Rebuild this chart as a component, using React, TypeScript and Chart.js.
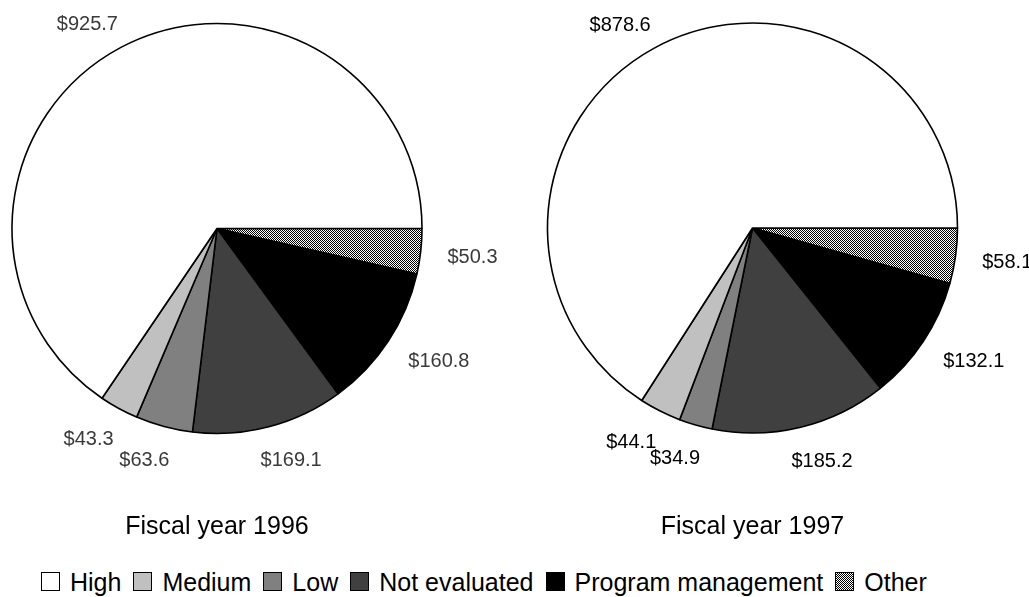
import React, { useEffect, useRef } from "react";
import { Chart, registerables } from "chart.js";

Chart.register(...registerables);

const FONT = '"Liberation Sans", Arial, Helvetica, sans-serif';

// Funding categories, in legend order
const categories = ["High", "Medium", "Low", "Not evaluated", "Program management", "Other"];
// Dollar amounts (millions) per category
const values1996 = [925.7, 43.3, 63.6, 169.1, 160.8, 50.3];
const values1997 = [878.6, 44.1, 34.9, 185.2, 132.1, 58.1];
const chartTitles = ["Fiscal year 1996", "Fiscal year 1997"];

// Slice fills per category; the last one is a checker pattern
const sliceFills = ["#ffffff", "#c0c0c0", "#808080", "#404040", "#000000", "checker"];

function makeChecker(): CanvasPattern | string {
  const c = document.createElement("canvas");
  c.width = 2;
  c.height = 2;
  const g = c.getContext("2d");
  if (!g) return "#808080";
  g.fillStyle = "#ffffff";
  g.fillRect(0, 0, 2, 2);
  g.fillStyle = "#000000";
  g.fillRect(0, 0, 1, 1);
  g.fillRect(1, 1, 1, 1);
  return g.createPattern(c, "repeat") || "#808080";
}

// Draws the "$x.x" value next to each slice and the caption under the pie
const sliceLabels = {
  id: "sliceLabels",
  afterDatasetsDraw(chart: any, _args: any, opts: any) {
    const { ctx, chartArea } = chart;
    const meta = chart.getDatasetMeta(0);
    const data = chart.data.datasets[0].data as number[];
    ctx.save();
    ctx.font = `20px ${FONT}`;
    ctx.fillStyle = opts.color;
    ctx.textAlign = "center";
    ctx.textBaseline = "alphabetic";
    meta.data.forEach((arc: any, i: number) => {
      const { x, y, startAngle, endAngle, outerRadius } = arc.getProps(
        ["x", "y", "startAngle", "endAngle", "outerRadius"],
        true
      );
      const mid = (startAngle + endAngle) / 2;
      const text = "$" + data[i].toFixed(1);
      const w = ctx.measureText(text).width;
      const c = Math.cos(mid);
      const s = Math.sin(mid);
      const R = outerRadius + 27;
      const lx = x + R * c + Math.sign(c) * Math.sqrt(Math.abs(c)) * (w / 2);
      const ly = y + (R + (s > 0 ? 6 : 1)) * s;
      ctx.fillText(text, lx, ly + 7.5);
    });
    ctx.font = `25px ${FONT}`;
    ctx.fillStyle = "#000";
    ctx.fillText(opts.title, (chartArea.left + chartArea.right) / 2, opts.titleY);
    ctx.restore();
  },
};

type PieProps = {
  values: number[];
  title: string;
  left: number;
  width: number;
  padLeft: number;
  padTop: number;
  labelColor: string;
};

const CANVAS_H = 545;
const PIE_R = 205;

function Pie({ values, title, left, width, padLeft, padTop, labelColor }: PieProps) {
  const ref = useRef<HTMLCanvasElement | null>(null);

  useEffect(() => {
    if (!ref.current) return;
    const checker = makeChecker();
    const fills = sliceFills.map((f) => (f === "checker" ? checker : f));
    // Slices run clockwise from 3 o'clock, starting with the last category
    const order = categories.map((_, i) => categories.length - 1 - i);
    const side = PIE_R * 2 + 24;
    const chart = new Chart(ref.current, {
      type: "pie",
      data: {
        labels: order.map((i) => categories[i]),
        datasets: [
          {
            data: order.map((i) => values[i]),
            backgroundColor: order.map((i) => fills[i]) as any,
            borderColor: "#000000",
            borderWidth: 1.6,
            radius: PIE_R,
          } as any,
        ],
      },
      options: {
        responsive: false,
        animation: false,
        devicePixelRatio: 1,
        rotation: 90,
        layout: {
          padding: {
            left: padLeft,
            right: width - padLeft - side,
            top: padTop,
            bottom: CANVAS_H - padTop - side,
          },
        },
        plugins: {
          legend: { display: false },
          tooltip: { enabled: false },
          sliceLabels: { color: labelColor, title, titleY: 534 },
        } as any,
        events: [],
      },
      plugins: [sliceLabels],
    });
    return () => chart.destroy();
  }, [values, title, width, padLeft, padTop, labelColor]);

  return (
    <canvas
      ref={ref}
      width={width}
      height={CANVAS_H}
      style={{ position: "absolute", left, top: 0, width, height: CANVAS_H }}
    />
  );
}

const swatchBase: React.CSSProperties = {
  width: 19,
  height: 19,
  boxSizing: "border-box",
  border: "1.5px solid #000",
  marginTop: 1.5,
  marginRight: 10,
  flex: "0 0 auto",
};

function Legend() {
  return (
    <div
      style={{
        position: "absolute",
        left: 41,
        top: 570,
        display: "flex",
        alignItems: "flex-start",
        font: `25px ${FONT}`,
        lineHeight: "25px",
        color: "#000",
        whiteSpace: "nowrap",
      }}
    >
      {categories.map((name, i) => {
        const fill = sliceFills[i];
        const bg: React.CSSProperties =
          fill === "checker"
            ? {
                backgroundImage: "repeating-conic-gradient(#000 0% 25%, #fff 0% 50%)",
                backgroundSize: "2px 2px",
              }
            : { background: fill };
        return (
          <div key={name} style={{ display: "flex", alignItems: "flex-start", marginRight: 12 }}>
            <div style={{ ...swatchBase, ...bg }} />
            <span>{name}</span>
          </div>
        );
      })}
    </div>
  );
}

export default function App() {
  return (
    <div
      style={{
        position: "fixed",
        left: 0,
        top: 0,
        width: 1029,
        height: 597,
        background: "#fff",
        overflow: "hidden",
      }}
    >
      <Pie
        values={values1996}
        title={chartTitles[0]}
        left={0}
        width={514}
        padLeft={0}
        padTop={11.5}
        labelColor="#3a3a3a"
      />
      <Pie
        values={values1997}
        title={chartTitles[1]}
        left={514}
        width={515}
        padLeft={21.5}
        padTop={11}
        labelColor="#000000"
      />
      <Legend />
    </div>
  );
}
